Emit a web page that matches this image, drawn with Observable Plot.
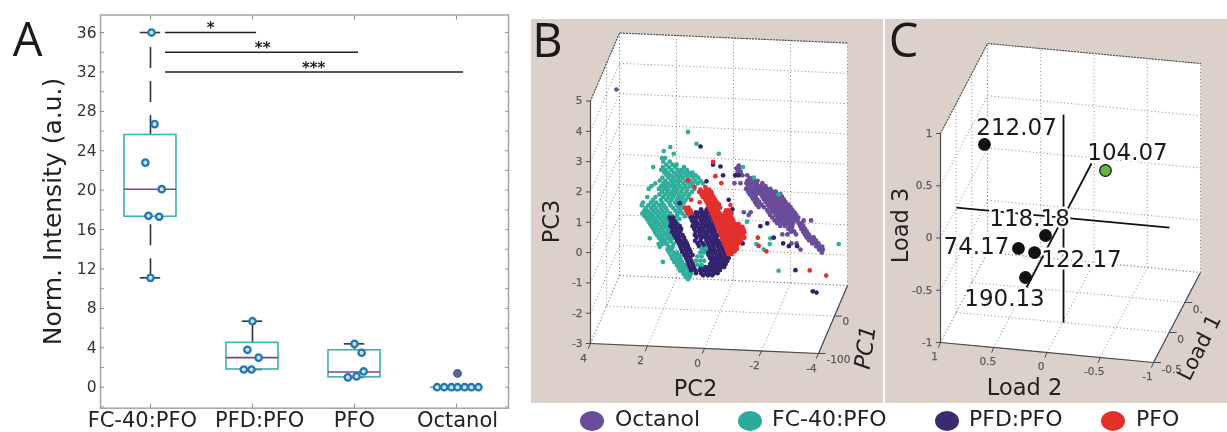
<!DOCTYPE html>
<html>
<head>
<meta charset="utf-8">
<script src="https://cdn.jsdelivr.net/npm/d3@7"></script>
<script src="https://cdn.jsdelivr.net/npm/@observablehq/plot@0.6"></script>
<style>
  html,body{margin:0;padding:0;background:#fff;}
  #root{position:relative;width:1227px;height:432px;overflow:hidden;font-family:"DejaVu Sans",sans-serif;color:#222;filter:blur(0.45px);}
  #root>div{position:absolute;}
  .leg{display:block;white-space:nowrap;font-size:22px;line-height:22px;}
  .dot{width:24px;height:20px;border-radius:50%;}
  svg{display:block;overflow:visible;}
</style>
</head>
<body>
<div id="root"></div>
<script>
// ---------- Panel A ----------
const boxCenters = [1, 2, 3, 4];
const boxLabels = ["FC-40:PFO", "PFD:PFO", "PFO", "Octanol"];
const boxLabelAt = [0.92, 2.07, 3.0, 4.01];
const boxQ1 = [17.3, 1.8, 1.0, 0];
const boxQ3 = [25.6, 4.5, 3.75, 0];
const boxMedian = [20.1, 3.0, 1.55, 0];
const whiskerLow = [11.1, 1.8, 1.0, 0];
const whiskerHigh = [36, 6.7, 4.4, 0];
const ptsX = [1.01,1.04,0.95,1.11,0.98,1.085,1.0, 2.0,1.95,2.06,1.915,1.99, 3.0,3.07,3.09,3.02,2.935, 3.81,3.88,3.95,4.01,4.08,4.145,4.215];
const ptsY = [36,26.7,22.8,20.1,17.4,17.3,11.1, 6.7,3.8,3.0,1.8,1.8, 4.4,3.5,1.6,1.1,1.0, 0,0,0,0,0,0,0];
const outlierX = [4.01];
const outlierY = [1.4];
const sigFrom = [1.147, 1.147, 1.147];
const sigTo = [2.04, 3.04, 4.07];
const sigY = [36, 34, 32];
const sigStars = ["*", "**", "***"];
const sigStarX = [1.59, 2.1, 2.6];

// ---------- Panel B: points as seen on the projected PC2 / PC3 plane, rows of [PC3, [PC2...]] ----------
const octanolRows = [
 [5.38,[3.09]],[2.87,[-1.2]],[2.78,[-1.22,-1.12]],[2.66,[-1.27,-1.16]],[2.55,[-1.08,-1.33,-1.5]],[2.45,[-1.58,-1.66]],
 [2.37,[-1.5,-1.63,-1.74,-1.86]],[2.29,[-1.05,-1.26,-1.47,-1.58,-1.71,-1.83,-2.03]],[2.19,[-1.52,-1.61,-1.77,-1.88,-1.99,-2.14]],
 [2.1,[-1.46,-1.57,-1.68,-1.83,-1.94,-2.08,-2.19,-2.31]],[2.01,[-1.53,-1.64,-1.76,-1.89,-1.99,-2.13,-2.27,-2.38,-2.5]],
 [1.93,[-1.58,-1.72,-1.81,-1.96,-2.05,-2.2,-2.31,-2.44,-2.57,-2.66]],[1.84,[-1.66,-1.79,-2.03,-2.11,-2.24,-2.36,-2.48,-2.62,-2.72]],
 [1.76,[-1.71,-1.85,-2.08,-2.18,-2.3,-2.42,-2.53,-2.66,-2.78]],[1.67,[-1.77,-1.92,-2.14,-2.27,-2.38,-2.49,-2.6,-2.73,-2.84]],
 [1.58,[-1.83,-2.0,-2.22,-2.33,-2.46,-2.57,-2.69,-2.81,-2.95]],[1.5,[-1.9,-2.08,-2.28,-2.41,-2.53,-2.64,-2.77,-2.88,-3.02]],
 [1.41,[-2.19,-2.36,-2.47,-2.6,-2.71,-2.84,-2.96,-3.08]],[1.33,[-1.38,-1.62,-2.25,-2.42,-2.55,-2.67,-2.79,-2.91,-3.03,-3.16]],
 [1.24,[-1.55,-2.3,-2.49,-2.61,-2.74,-2.87,-2.98,-3.11,-3.22]],[1.15,[-2.38,-2.56,-2.68,-2.82,-2.93,-3.06,-3.18,-3.29]],
 [1.06,[-2.46,-2.62,-2.75,-2.89,-3.02,-3.15,-3.26,-3.48,-3.74]],[0.97,[-2.55,-2.71,-2.86,-2.97,-3.1,-3.3,-3.42]],
 [0.88,[-2.66,-2.82,-2.98,-3.08,-3.35,-3.47]],[0.78,[-2.94,-3.07,-3.4,-3.53]],[0.69,[-3.03,-3.15,-3.46,-3.59]],
 [0.6,[-2.73,-2.91,-3.21,-3.52,-3.66]],[0.5,[-3.58,-3.71,-3.83]],[0.4,[-3.67,-3.8,-3.91]],[0.3,[-3.05,-3.23,-3.78,-3.9,-4.0]],
 [0.2,[-3.92,-4.05,-4.13]],[0.1,[-3.37,-4.02,-4.15]],[0.0,[-4.12]]
];
const fcRows = [
 [3.98,[0.58]],[3.59,[0.28]],[3.48,[1.2]],[3.35,[1.43]],[3.26,[1.08,-0.5]],[3.12,[1.49,1.38]],[3.0,[1.45,1.22]],[2.9,[1.34,1.12,0.98]],
 [2.82,[1.8,1.46,1.25,1.03,0.72,-1.35]],[2.73,[1.52,1.37,1.16,0.94,0.79,0.62]],[2.64,[1.41,1.28,1.07,0.88,0.71,0.55,0.42]],
 [2.55,[1.33,1.19,0.99,0.83,0.64,0.47,0.31]],[2.47,[1.48,1.26,1.09,0.92,0.76,0.58,0.39,0.22,-1.73]],[2.37,[1.57,1.38,1.17,1.01,0.85,0.66,0.5,0.33,0.14]],
 [2.28,[1.73,1.44,1.29,1.11,0.93,0.74,0.56,0.41,0.24,0.06]],[2.19,[1.86,1.51,1.36,1.19,1.03,0.87,0.68,0.49]],[2.1,[1.96,1.6,1.42,1.27,1.08,0.95,0.77,0.6,0.36]],
 [2.01,[1.49,1.31,1.14,0.99,0.82,0.63,0.44]],[1.92,[1.58,1.38,1.21,1.06,0.89,0.71,0.53,-2.6]],[1.83,[2.01,1.72,1.46,1.27,1.1,0.93,0.78,0.58]],
 [1.74,[1.81,1.53,1.34,1.16,0.97,0.82,0.66]],[1.65,[2.16,1.88,1.69,1.49,1.24,1.03,0.89,0.72]],[1.56,[2.2,1.97,1.78,1.59,1.42,1.19,0.96,0.81]],
 [1.47,[2.07,1.87,1.71,1.52,1.36,1.1,0.91,0.74]],[1.38,[2.12,2.0,1.82,1.65,1.48,1.31,1.02,0.85,0.63]],[1.29,[2.18,2.06,1.91,1.74,1.57,1.4,1.21,0.94,0.78,0.58]],
 [1.2,[2.1,1.95,1.81,1.63,1.46,1.3,1.13,0.97,0.69,0.52]],[1.11,[2.02,1.87,1.72,1.55,1.38,1.24,1.06,0.88]],[1.02,[1.96,1.79,1.66,1.48,1.33,1.17,0.99,-1.49]],
 [0.93,[1.9,1.75,1.59,1.43,1.27,1.09,0.92]],[0.84,[1.84,1.69,1.52,1.36,1.2]],[0.75,[1.78,1.62,1.47,1.29,1.13]],[0.66,[1.73,1.57,1.4,1.24]],
 [0.57,[1.67,1.5,1.33,1.17]],[0.47,[1.92,1.59,1.44,1.26,1.12,-2.31]],[0.38,[1.52,1.37,1.19]],[0.28,[1.61,1.46,1.31,1.09,0.7,-1.82,-2.29,-4.71]],
 [0.19,[1.57,1.25,1.12,0.86]],[0.1,[1.3,1.16,-2.08]],[0,[1.24,1.08,0.96]],[-0.1,[1.18,1.03,0.88]],[-0.2,[1.13,0.98,0.84]],
 [-0.31,[1.46,1.06,0.92,0.78]],[-0.41,[0.97,0.83,0.69]],[-0.5,[0.91,0.77,0.62]],[-0.6,[0.86,0.72,0.56,-2.6]],[-0.7,[0.74,0.6,0.47]],
 [-0.8,[0.66,0.52]],[-0.88,[0.58]]
];
const pfdRows = [
 [3.5,[0.14]],[2.9,[-0.3]],[2.84,[-0.56]],[2.55,[-0.65,-1.08,-1.2]],[2.35,[-0.07]],[1.74,[-0.85]],[1.63,[0.87]],[1.59,[-0.5]],
 [1.43,[0.12,-0.08,-0.28,-0.98]],[1.33,[0.3,0.16,0.02,-0.13,-0.29]],[1.24,[0.42,0.26,0.09,-0.06,-0.22,-0.4]],
 [1.15,[1.22,1.11,0.48,0.33,0.18,0.03,-0.11,-0.27,-0.42]],[1.05,[1.18,1.06,0.44,0.3,0.12,-0.02,-0.17,-0.33,-0.47]],
 [0.96,[1.15,1.0,0.38,0.24,0.07,-0.07,-0.23,-0.38,-2.2]],[0.87,[1.19,1.04,0.87,0.42,0.29,0.13,-0.03,-0.15,-0.3,-0.44,-1.96]],
 [0.78,[1.12,0.97,0.82,0.36,0.2,0.05,-0.11,-0.26,-0.4]],[0.68,[1.14,1.0,0.85,0.31,0.16,0.01,-0.12,-0.24,-0.36]],
 [0.58,[1.06,0.92,0.77,0.34,0.18,0.04,-0.09,-0.25,-0.38,-0.47]],[0.49,[1.01,0.88,0.72,0.28,0.11,-0.03,-0.16,-0.31,-0.42,-2.43]],
 [0.39,[0.97,0.83,0.67,0.33,0.14,-0.07,-0.22,-0.36,-0.49]],[0.3,[0.9,0.75,0.62,0.24,0.06,-0.11,-0.27,-0.41,-0.55,-1.34,-2.76]],
 [0.21,[0.84,0.69,0.58,0.19,0.02,-0.15,-0.3,-0.46,-0.6,-2.96,-3.25]],[0.11,[0.81,0.66,0.53,-0.03,-0.19,-0.34,-0.5,-0.64,-0.74]],
 [0.02,[0.78,0.63,0.49,-0.1,-0.24,-0.38,-0.53,-0.68,-0.79]],[-0.08,[0.71,0.58,0.42,-0.14,-0.28,-0.43,-0.57,-0.72,-0.83]],
 [-0.18,[0.65,0.5,-0.19,-0.33,-0.47,-0.61,-0.76,-0.85]],[-0.28,[0.6,0.46,-0.25,-0.39,-0.53,-0.67,-0.8]],
 [-0.38,[0.56,0.41,-0.2,-0.34,-0.48,-0.62,-0.74]],[-0.48,[0.52,0.37,0.13,-0.02,-0.16,-0.3,-0.44,-0.58,-0.69]],
 [-0.58,[0.47,0.33,0.17,0.03,-0.11,-0.26,-0.4,-0.54,-3.19]],[-0.68,[0.3,0.12,-0.04,-0.18,-0.33,-0.46]],[-0.75,[0.05,-0.12,-0.27]],
 [-1.28,[-3.8]],[-1.32,[-3.93]]
];
const fcFrontRows = [
 [0.13,[-0.05,0.1]],[0.0,[0.15,0.02]],[-0.13,[0.25,0.1]],[-0.27,[0.3,0.15,0.01]],[-0.41,[0.25,0.1]]
];
const pfoRows = [
 [2.99,[-0.3]],[2.52,[-0.38]],[2.38,[0.58]],[2.29,[-0.59]],[2.16,[-0.03,0.35]],[2.08,[0.14,-0.05,-0.16]],[2.0,[0.19,0.02,-0.12,-0.24]],
 [1.92,[0.11,-0.04,-0.18,-0.27]],[1.83,[0.06,-0.09,-0.21,-0.32]],[1.74,[0.47,-0.03,-0.14,-0.26,-0.38]],[1.66,[0.17,-0.08,-0.2,-0.31,-0.43]],
 [1.57,[-0.12,-0.24,-0.37,-0.5,-0.91]],[1.48,[0.68,0.56,-0.17,-0.29,-0.42,-0.55]],[1.39,[0.63,0.49,-0.21,-0.34,-0.47,-0.76,-0.86]],
 [1.3,[0.58,0.46,-0.26,-0.39,-0.53,-0.71,-0.84,-0.95]],[1.21,[-0.3,-0.44,-0.58,-0.69,-0.82,-0.93]],[1.12,[-0.34,-0.48,-0.62,-0.74,-0.87,-0.98]],
 [1.03,[-0.37,-0.51,-0.65,-0.79,-0.9,-1.01]],[0.94,[-0.41,-0.55,-0.69,-0.83,-0.96,-1.08,-1.2]],[0.85,[-0.45,-0.58,-0.71,-0.85,-0.98,-1.11,-1.24,-1.33]],
 [0.76,[-0.49,-0.62,-0.76,-0.89,-1.02,-1.15,-1.27,-1.37]],[0.67,[-0.53,-0.66,-0.8,-0.93,-1.06,-1.19,-1.31,-1.4]],[0.58,[-0.58,-0.71,-0.84,-0.97,-1.1,-1.23,-1.36]],
 [0.49,[-0.61,-0.74,-0.87,-1.0,-1.13,-1.26,-1.4,-1.87]],[0.4,[-0.65,-0.78,-0.92,-1.05,-1.17,-1.29]],[0.31,[-0.69,-0.83,-0.96,-1.09,-1.21]],
 [0.22,[-0.73,-0.87,-1.0,-1.13,-1.9]],[0.13,[-0.77,-0.9,-1.03,-1.14]],[0.04,[-0.8,-0.93,-1.06,-2.17]],[-0.05,[-0.83,-0.96]],
 [-0.59,[-3.69]],[-0.76,[-4.27]]
];
const pc2Ticks = [4, 2, 0, -2, -4];
const pc3Ticks = [5, 4, 3, 2, 1, 0, -1, -2, -3];
const pc1TickDepth = [0, 0.55, 1];
const pc1Labeled = [0, 0.55];
const pc1TickLabels = ["-100", "0"];

// ---------- Panel C: on the projected Load 2 / Load 3 plane ----------
const loadNames = ["212.07", "104.07", "118.18", "74.17", "122.17", "190.13"];
const loadX = [0.587, -0.549, 0.014, 0.268, 0.117, 0.202];
const loadY = [0.895, 0.646, 0.024, -0.10, -0.139, -0.378];
const loadColor = ["#111111", "#68b544", "#111111", "#111111", "#111111", "#111111"];
const loadLabelX = [0.286, -0.756, 0.164, 0.662, -0.324, 0.399];
const loadLabelY = [1.057, 0.818, 0.187, -0.081, -0.206, -0.579];
const load2Ticks = [1, 0.5, 0, -0.5, -1];
const load3Ticks = [1, 0.5, 0, -0.5, -1];
const load1Depth = [0, 1/3, 2/3, 1];
const load1Labeled = [0, 1/3, 2/3];
const load1TickLabels = ["-0.5", "0", "0."];
const crossA = [[0.85, 0.29], [-1.15, 0.10]];   // the long axes through the loading origin
const crossB = [[-0.155, 1.18], [-0.155, -0.81]];
const crossC = [[-0.418, 0.713], [0.192, -0.474]];

const panelBg = "#dcd0ca";
const gridC = "#8d8784";
const axisC = "#4a4a4a";
const tickC = "#5c5c5c";
const octanolC = "#6b4c9a", fcC = "#2fae9b", pfdC = "#33236f", pfoC = "#e3302d";

const root = document.getElementById("root");
function place(el, left, top){
  const d = document.createElement("div");
  d.style.left = left + "px"; d.style.top = top + "px";
  d.appendChild(el); root.appendChild(d); return d;
}
const rows = r => r.flatMap(([y, xs]) => xs.map(x => ({x, y})));
const idx = a => a.map((_, i) => i);
const centered = {textAnchor: "middle", lineAnchor: "middle", frameAnchor: "top-left"};

// ---- A
const minorY = [-2,2,6,10,14,18,22,26,30,34];
const majorY = [0,4,8,12,16,20,24,28,32,36];
const boxI = idx(boxCenters);
const boxW = 0.255;
const plotA = Plot.plot({
  width: 530, height: 432, marginLeft: 100, marginRight: 22, marginTop: 14.5, marginBottom: 24.3,
  x: {type: "linear", domain: [0.51, 4.51]},
  y: {domain: [-2.13, 37.78]},
  style: {fontFamily: "DejaVu Sans", background: "transparent", overflow: "visible"},
  marks: [
    Plot.frame({stroke: "#aaaaaa", strokeWidth: 1.6}),
    Plot.axisY({ticks: majorY, anchor: "left", tickSize: -4, tickPadding: 8, fontSize: 15.5, stroke: "#888", fill:"#333", label: null}),
    Plot.axisY({ticks: minorY, anchor: "left", tickSize: -4, tickFormat: () => "", stroke: "#999", label: null}),
    Plot.axisY({ticks: majorY.concat(minorY), anchor: "right", tickSize: -4, tickFormat: () => "", stroke: "#999", label: null}),
    Plot.axisX({ticks: boxCenters, anchor: "bottom", tickSize: -4, tickFormat: () => "", stroke: "#888", label: null}),
    Plot.axisX({ticks: boxCenters, anchor: "top", tickSize: -4, tickFormat: () => "", stroke: "#888", label: null}),
    // whiskers
    Plot.ruleX([0], {x: () => boxCenters[0], y1: () => whiskerHigh[0], y2: () => boxQ3[0], stroke: "#333", strokeWidth: 1.6, strokeDasharray: "21,13", strokeDashoffset: 19}),
    Plot.ruleX([0], {x: () => boxCenters[0], y1: () => boxQ1[0], y2: () => whiskerLow[0], stroke: "#333", strokeWidth: 1.6, strokeDasharray: "21,13", strokeDashoffset: 26}),
    Plot.ruleX([1,2], {x: i => boxCenters[i], y1: i => whiskerHigh[i], y2: i => boxQ3[i], stroke: "#333", strokeWidth: 1.6}),
    Plot.ruleY([0,1,2], {y: i => whiskerHigh[i], x1: i => boxCenters[i] - 0.1, x2: i => boxCenters[i] + 0.1, stroke: "#333", strokeWidth: 1.6}),
    Plot.ruleY([0,1,2], {y: i => whiskerLow[i], x1: i => boxCenters[i] - 0.1, x2: i => boxCenters[i] + 0.1, stroke: "#333", strokeWidth: 1.6}),
    // boxes
    Plot.rect(boxI, {x1: i => boxCenters[i] - boxW, x2: i => boxCenters[i] + boxW, y1: i => boxQ1[i], y2: i => boxQ3[i], stroke: "#3cb3ab", strokeWidth: 1.6, fill: "none"}),
    Plot.ruleY([0,1,2], {y: i => boxMedian[i], x1: i => boxCenters[i] - boxW, x2: i => boxCenters[i] + boxW, stroke: "#7d3f98", strokeWidth: 1.6}),
    Plot.ruleY([3], {y: i => boxMedian[i], x1: i => boxCenters[i] - boxW, x2: i => boxCenters[i] + boxW, stroke: "#3cb3ab", strokeWidth: 1.6}),
    // data points
    Plot.dot(idx(ptsX), {x: i => ptsX[i], y: i => ptsY[i], r: 3.2, stroke: "#1f78b4", strokeWidth: 2.3, fill: "#cfe3ef"}),
    Plot.dot(idx(outlierX), {x: i => outlierX[i], y: i => outlierY[i], r: 3.6, stroke: "#2a73ad", strokeWidth: 1.8, fill: "#a8407f"}),
    // significance bars
    Plot.ruleY(idx(sigY), {y: i => sigY[i], x1: i => sigFrom[i], x2: i => sigTo[i], stroke: "#222", strokeWidth: 1.5}),
    Plot.text(idx(sigY), {y: i => sigY[i], x: i => sigStarX[i], text: i => sigStars[i], fontSize: 15, fontWeight: "bold", fill: "#222", dy: -4}),
    // category labels
    Plot.text(boxI, {x: i => boxLabelAt[i], text: i => boxLabels[i], frameAnchor: "bottom", lineAnchor: "middle", dy: 12, fontSize: 21, fill: "#222"}),
    Plot.text(["Norm. Intensity (a.u.)"], {...centered, dx: -48, dy: 196.5, rotate: -90, fontSize: 25, fill: "#222"}),
    Plot.text(["A"], {...centered, dx: -73, dy: 26, fontSize: 47, fontFamily: "Open Sans", fill: "#1a1a1a"})
  ]
});
place(plotA, 0, 0);

// ---- Shared 3D scaffold: a parallel projection of the box onto the panel plane
function scaffold({project, xTicks, zTicks, depths, xMin, xMax, zMin, zMax}){
  const L = [];
  const add = (a, b) => L.push({x1: a[0], y1: a[1], x2: b[0], y2: b[1]});
  for (const t of xTicks) { add(project(t, zMin, 1), project(t, zMax, 1)); add(project(t, zMin, 0), project(t, zMin, 1)); }
  for (const t of zTicks) { add(project(xMax, t, 1), project(xMin, t, 1)); add(project(xMax, t, 0), project(xMax, t, 1)); }
  for (const d of depths) { add(project(xMax, zMin, d), project(xMin, zMin, d)); add(project(xMax, zMin, d), project(xMax, zMax, d)); }
  return L;
}
function corners(project, xMin, xMax, zMin, zMax){
  return [project(xMax,zMax,0), project(xMax,zMax,1), project(xMin,zMax,1), project(xMin,zMin,1), project(xMin,zMin,0), project(xMax,zMin,0)];
}
const gridMark = L => Plot.link(L, {x1:"x1", y1:"y1", x2:"x2", y2:"y2", stroke: gridC, strokeWidth: 1, strokeDasharray: "1,2.5"});
const link = (L, w=1.2, c=axisC) => Plot.link(L, {x1:"x1", y1:"y1", x2:"x2", y2:"y2", stroke: c, strokeWidth: w});

// ---- B
const pxB = 28.5, pyB = 30.3;
const projB = (pc2, pc3, d) => [pc2 - d * 29 / pxB, pc3 - (4 - pc2) * (10 / 8) / pyB + d * 68 / pyB];
const cornersB = corners(projB, -4, 4, -3, 5);
const topEdgeB = [projB(4,5,0), projB(4,5,1), projB(-4,5,1)].map(p => ({x:p[0], y:p[1]}));
const axesB = [
  [projB(4,5,0), projB(4,-3,0)], [projB(4,-3,0), projB(-4,-3,0)], [projB(-4,-3,0), projB(-4,-3,1)]
].map(([a,b]) => ({x1:a[0], y1:a[1], x2:b[0], y2:b[1]}));
const ticksB = [
  ...pc3Ticks.map(t => { const p = projB(4,t,0); return {x1:p[0], y1:p[1], x2:p[0]+0.16, y2:p[1]}; }),
  ...pc2Ticks.map(t => { const p = projB(t,-3,0); return {x1:p[0], y1:p[1], x2:p[0]+0.08, y2:p[1]-0.17}; }),
  ...pc1Labeled.map(d => { const p = projB(-4,-3,d); return {x1:p[0], y1:p[1], x2:p[0]-0.25, y2:p[1]}; })
];
const labelText = (pts, opts) => Plot.text(pts, {x:"x", y:"y", text:"t", fontSize: 10.5, fill: tickC, stroke: tickC, strokeWidth: 0.25, ...opts});
const dotR = 2.35;
const plotB = Plot.plot({
  width: 352, height: 384, margin: 0,
  x: {type:"linear", domain: [6.07, -6.28]},
  y: {domain: [-4.98, 7.69]},
  axis: null,
  style: {fontFamily: "DejaVu Sans", background: panelBg, overflow: "visible"},
  marks: [
    Plot.line(cornersB, {x: p => p[0], y: p => p[1], fill: "white", stroke: "none", curve: "linear-closed"}),
    gridMark(scaffold({project: projB, xTicks: pc2Ticks, zTicks: pc3Ticks, depths: pc1TickDepth, xMin: -4, xMax: 4, zMin: -3, zMax: 5})),
    Plot.line(topEdgeB, {x:"x", y:"y", stroke:"#555", strokeWidth:1.2, strokeDasharray:"1,2"}),
    link(axesB), link(ticksB, 1),
    Plot.dot(rows(octanolRows), {x:"x", y:"y", r: dotR, fill: octanolC}),
    Plot.dot(rows(fcRows), {x:"x", y:"y", r: dotR, fill: fcC}),
    Plot.dot(rows(pfdRows), {x:"x", y:"y", r: dotR, fill: pfdC}),
    Plot.dot(rows(fcFrontRows), {x:"x", y:"y", r: dotR, fill: fcC}),
    Plot.dot(rows(pfoRows), {x:"x", y:"y", r: dotR, fill: pfoC}),
    labelText(pc3Ticks.map(t => { const p = projB(4,t,0); return {x:p[0], y:p[1], t:String(t)}; }), {textAnchor:"end", dx:-8}),
    labelText(pc2Ticks.map(t => { const p = projB(t,-3,0); return {x:p[0], y:p[1], t:String(t)}; }), {dx:-7, dy:15}),
    labelText(pc1Labeled.map((d,i) => { const p = projB(-4,-3,d); return {x:p[0], y:p[1], t:pc1TickLabels[i]}; }), {textAnchor:"start", dx:8, dy:6}),
    Plot.text(["PC2"], {...centered, dx:164, dy:369, fontSize:22.5, fill:"#222"}),
    Plot.text(["PC3"], {...centered, dx:20, dy:202, rotate:-90, fontSize:22.5, fill:"#222"}),
    Plot.text(["PC1"], {...centered, dx:334, dy:328, rotate:-82, fontSize:22.5, fontStyle:"italic", fill:"#222"}),
    Plot.text(["B"], {...centered, dx:16, dy:22, fontSize:47, fontFamily:"Open Sans", fill:"#1a1a1a"})
  ]
});
place(plotB, 531, 19);

// ---- C
const pxC = 106.5, pyC = 104.5;
const projC = (l2, l3, d) => [l2 - d * 47 / pxC, l3 - (1 - l2) * 10 / pyC + d * 90 / pyC];
const cornersC = corners(projC, -1, 1, -1, 1);
const topEdgeC = [projC(1,1,0), projC(1,1,1), projC(-1,1,1)].map(p => ({x:p[0], y:p[1]}));
const axesC = [
  [projC(1,1,0), projC(1,-1,0)], [projC(1,-1,0), projC(-1,-1,0)], [projC(-1,-1,0), projC(-1,-1,1)]
].map(([a,b]) => ({x1:a[0], y1:a[1], x2:b[0], y2:b[1]}));
const ticksC = [
  ...load3Ticks.map(t => { const p = projC(1,t,0); return {x1:p[0], y1:p[1], x2:p[0]+0.04, y2:p[1]}; }),
  ...load2Ticks.map(t => { const p = projC(t,-1,0); return {x1:p[0], y1:p[1], x2:p[0]+0.02, y2:p[1]-0.05}; }),
  ...load1Labeled.map(d => { const p = projC(-1,-1,d); return {x1:p[0], y1:p[1], x2:p[0]-0.07, y2:p[1]}; })
];
const crosses = [crossA, crossB, crossC];
const plotC = Plot.plot({
  width: 342, height: 384, margin: 0,
  x: {type:"linear", domain: [1 + 55/pxC, 1 - 287/pxC]},
  y: {domain: [-1 - 61/pyC, -1 + 323/pyC]},
  axis: null,
  style: {fontFamily: "DejaVu Sans", background: panelBg, overflow: "visible"},
  marks: [
    Plot.line(cornersC, {x: p => p[0], y: p => p[1], fill: "white", stroke: "none", curve: "linear-closed"}),
    gridMark(scaffold({project: projC, xTicks: load2Ticks, zTicks: load3Ticks, depths: load1Depth, xMin: -1, xMax: 1, zMin: -1, zMax: 1})),
    Plot.line(topEdgeC, {x:"x", y:"y", stroke:"#555", strokeWidth:1.2, strokeDasharray:"1,2"}),
    link(axesC), link(ticksC, 1),
    link(crosses.map(([a,b]) => ({x1:a[0], y1:a[1], x2:b[0], y2:b[1]})), 1.8, "#111"),
    Plot.text(idx(loadNames), {x: i => loadLabelX[i], y: i => loadLabelY[i], text: i => loadNames[i], fontSize: 23, fill:"#1a1a1a", stroke:"white", strokeWidth:5, paintOrder:"stroke"}),
    Plot.dot(idx(loadNames), {x: i => loadX[i], y: i => loadY[i], r: 5.8, fill: i => loadColor[i], stroke:"#111", strokeWidth: 1.2}),
    labelText(load3Ticks.map(t => { const p = projC(1,t,0); return {x:p[0], y:p[1], t:String(t)}; }), {textAnchor:"end", dx:-8}),
    labelText(load2Ticks.map(t => { const p = projC(t,-1,0); return {x:p[0], y:p[1], t:String(t)}; }), {dx:-6, dy:14}),
    labelText(load1Labeled.map((d,i) => { const p = projC(-1,-1,d); return {x:p[0], y:p[1], t:load1TickLabels[i]}; }), {textAnchor:"start", dx:8, dy:7}),
    Plot.text(["Load 2"], {...centered, dx:139, dy:368, fontSize:22.5, fill:"#222"}),
    Plot.text(["Load 3"], {...centered, dx:15, dy:206, rotate:-90, fontSize:22.5, fill:"#222"}),
    Plot.text(["Load 1"], {...centered, dx:314, dy:328, rotate:-63, fontSize:21, fill:"#222"}),
    Plot.text(["C"], {...centered, dx:18, dy:22, fontSize:47, fontFamily:"Open Sans", fill:"#1a1a1a"})
  ]
});
place(plotC, 885, 19);

// ---- Legend below the panels
const legendNames = ["Octanol", "FC-40:PFO", "PFD:PFO", "PFO"];
const legendColors = [octanolC, "#2bab99", "#3a2a72", "#e2302b"];
const legendDotLeft = [580, 738, 935, 1101];
const legendTextLeft = [615, 772, 969, 1136];
legendNames.forEach((n, i) => {
  const dot = document.createElement("div");
  dot.className = "dot"; dot.style.background = legendColors[i];
  place(dot, legendDotLeft[i], 411);
  const t = document.createElement("span");
  t.className = "leg"; t.textContent = n;
  place(t, legendTextLeft[i], 407.5);
});
</script>
</body>
</html>
